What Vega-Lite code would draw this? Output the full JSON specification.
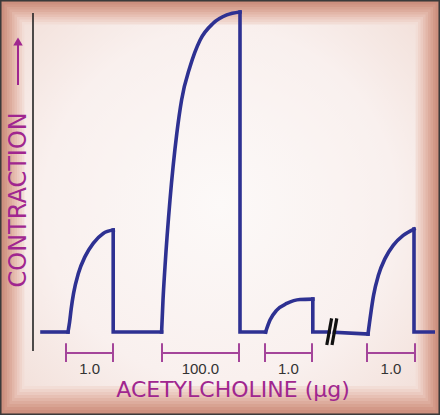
{
  "$schema": "https://vega.github.io/schema/vega-lite/v6.json",
  "width": 440,
  "height": 415,
  "autosize": {"type": "none"},
  "padding": 0,
  "background": "#C98B7A",
  "config": {"view": {"stroke": null}},
  "encoding": {
    "x": {"field": "t", "type": "quantitative", "scale": {"domain": [0, 110], "nice": false, "zero": false}, "axis": null},
    "y": {"field": "c", "type": "quantitative", "scale": {"domain": [-25, 100], "nice": false, "zero": false}, "axis": null}
  },
  "layer": [
    {
      "data": {"values": [{"t": 0, "t2": 110, "c": -25, "c2": 100}]},
      "mark": {"type": "rect", "fill": "#C48675", "stroke": "#3a3a3a", "strokeWidth": 3},
      "encoding": {"x2": {"field": "t2"}, "y2": {"field": "c2"}}
    },
    {
      "data": {"values": [
        {"ring": 0, "t": 0.5, "t2": 109.5, "c": -24.4, "c2": 99.4},
        {"ring": 1, "t": 1.125, "t2": 108.875, "c": -23.49, "c2": 98.64},
        {"ring": 2, "t": 1.75, "t2": 108.25, "c": -22.59, "c2": 97.89},
        {"ring": 3, "t": 2.375, "t2": 107.625, "c": -21.69, "c2": 97.14},
        {"ring": 4, "t": 3.0, "t2": 107.0, "c": -20.78, "c2": 96.39},
        {"ring": 5, "t": 3.625, "t2": 106.375, "c": -19.88, "c2": 95.63},
        {"ring": 6, "t": 4.25, "t2": 105.75, "c": -18.98, "c2": 94.88},
        {"ring": 7, "t": 4.875, "t2": 105.125, "c": -18.07, "c2": 94.13},
        {"ring": 8, "t": 5.5, "t2": 104.5, "c": -17.17, "c2": 93.37}
      ]},
      "mark": {"type": "rect"},
      "encoding": {
        "x2": {"field": "t2"}, "y2": {"field": "c2"},
        "fill": {"field": "ring", "type": "ordinal", "legend": null,
          "scale": {"range": ["#CD907F", "#D39988", "#D8A392", "#DDAC9D", "#E2B6A8", "#E7C0B4", "#EBCAC0", "#EFD4CB", "#F2DDD6"]}}
      }
    },
    {
      "data": {"values": [{"t": 6.1, "t2": 103.9, "c": -16.3, "c2": 92.6}]},
      "mark": {"type": "rect", "fill": {"gradient": "radial", "x1": 0.5, "y1": 0.5, "r1": 0, "x2": 0.5, "y2": 0.5, "r2": 0.75,
        "stops": [{"offset": 0, "color": "#FCF9F8"}, {"offset": 0.6, "color": "#F9F0EE"}, {"offset": 1, "color": "#F1DDD6"}]}},
      "encoding": {"x2": {"field": "t2"}, "y2": {"field": "c2"}}
    },
    {
      "data": {"values": [{"t": 8.25, "c": -5.7, "c2": 96.1}]},
      "mark": {"type": "rule", "color": "#222222", "strokeWidth": 1.6},
      "encoding": {"y2": {"field": "c2"}}
    },
    {
      "data": {"values": [{"t": 4.5, "c": 74.4, "c2": 86.5}]},
      "mark": {"type": "rule", "color": "#A0268F", "strokeWidth": 2},
      "encoding": {"y2": {"field": "c2"}}
    },
    {
      "data": {"values": [{"t": 4.5, "c": 87.5}]},
      "mark": {"type": "point", "shape": "triangle-up", "filled": true, "color": "#A0268F", "size": 90, "opacity": 1}
    },
    {
      "data": {"values": [{"t": 4.75, "c": 39.8, "label": "CONTRACTION"}]},
      "mark": {"type": "text", "angle": 270, "align": "center", "baseline": "middle", "font": "DejaVu Sans", "fontSize": 24, "color": "#A0268F"},
      "encoding": {"text": {"field": "label"}}
    },
    {
      "data": {"values": [
        {"seg": "s1", "i": 0, "t": 10.5, "c": 0},
        {"seg": "s1", "i": 1, "t": 17.0, "c": 0},
        {"seg": "s2", "i": 0, "t": 28.3, "c": 30.7},
        {"seg": "s2", "i": 1, "t": 28.3, "c": 0},
        {"seg": "s2", "i": 2, "t": 40.4, "c": 0},
        {"seg": "s3", "i": 0, "t": 60.0, "c": 96.4},
        {"seg": "s3", "i": 1, "t": 60.0, "c": 0},
        {"seg": "s3", "i": 2, "t": 66.4, "c": 0},
        {"seg": "s4", "i": 0, "t": 78.2, "c": 9.9},
        {"seg": "s4", "i": 1, "t": 78.2, "c": 0},
        {"seg": "s4", "i": 2, "t": 82.3, "c": 0},
        {"seg": "s5", "i": 0, "t": 83.6, "c": -0.1},
        {"seg": "s5", "i": 1, "t": 92.0, "c": -0.6},
        {"seg": "s6", "i": 0, "t": 103.5, "c": 31.0},
        {"seg": "s6", "i": 1, "t": 103.5, "c": 0},
        {"seg": "s6", "i": 2, "t": 108.3, "c": 0}
      ]},
      "mark": {"type": "line", "color": "#2E3192", "strokeWidth": 3.6, "strokeJoin": "miter", "strokeCap": "square"},
      "encoding": {"order": {"field": "i", "type": "quantitative"}, "detail": {"field": "seg"}}
    },
    {
      "data": {"values": [
        {"curve": 1, "t": 17.0, "c": 0},
        {"curve": 1, "t": 17.4, "c": 3},
        {"curve": 1, "t": 17.8, "c": 7},
        {"curve": 1, "t": 18.4, "c": 11.7},
        {"curve": 1, "t": 19.6, "c": 17.7},
        {"curve": 1, "t": 21.25, "c": 22.7},
        {"curve": 1, "t": 23.3, "c": 26.7},
        {"curve": 1, "t": 25.8, "c": 29.7},
        {"curve": 1, "t": 28.3, "c": 30.7},
        {"curve": 2, "t": 40.4, "c": 0},
        {"curve": 2, "t": 40.75, "c": 9.6},
        {"curve": 2, "t": 41.25, "c": 19.7},
        {"curve": 2, "t": 42.5, "c": 39.8},
        {"curve": 2, "t": 44.2, "c": 59.8},
        {"curve": 2, "t": 45.4, "c": 69.9},
        {"curve": 2, "t": 47.5, "c": 79.9},
        {"curve": 2, "t": 50.0, "c": 87.9},
        {"curve": 2, "t": 53.3, "c": 93.0},
        {"curve": 2, "t": 56.7, "c": 95.5},
        {"curve": 2, "t": 60.0, "c": 96.4},
        {"curve": 3, "t": 66.4, "c": 0},
        {"curve": 3, "t": 67.5, "c": 3.6},
        {"curve": 3, "t": 69.2, "c": 6.6},
        {"curve": 3, "t": 71.7, "c": 8.6},
        {"curve": 3, "t": 75.0, "c": 9.8},
        {"curve": 3, "t": 78.2, "c": 9.9},
        {"curve": 4, "t": 92.0, "c": -0.6},
        {"curve": 4, "t": 92.4, "c": 3},
        {"curve": 4, "t": 92.8, "c": 6.5},
        {"curve": 4, "t": 93.4, "c": 11.1},
        {"curve": 4, "t": 94.6, "c": 17.1},
        {"curve": 4, "t": 96.25, "c": 22.1},
        {"curve": 4, "t": 98.3, "c": 26.1},
        {"curve": 4, "t": 100.8, "c": 29.1},
        {"curve": 4, "t": 103.5, "c": 31.0}
      ]},
      "mark": {"type": "line", "color": "#2E3192", "strokeWidth": 3.6, "interpolate": "monotone", "strokeCap": "square"},
      "encoding": {"detail": {"field": "curve"}}
    },
    {
      "data": {"values": [
        {"k": "a", "n": 0, "t": 82.9, "c": 4.1},
        {"k": "a", "n": 1, "t": 81.7, "c": -3.9},
        {"k": "b", "n": 0, "t": 84.2, "c": 4.1},
        {"k": "b", "n": 1, "t": 83.0, "c": -3.9}
      ]},
      "mark": {"type": "line", "color": "#111111", "strokeWidth": 3.2, "strokeCap": "butt"},
      "encoding": {"order": {"field": "n", "type": "quantitative"}, "detail": {"field": "k"}}
    },
    {
      "data": {"values": [
        {"dose": "1.0", "t": 16.5, "t2": 28.25, "tm": 22.4, "c": -6.3, "ctop": -3.4, "cbot": -9.0, "clab": -11.1},
        {"dose": "100.0", "t": 40.5, "t2": 59.75, "tm": 50.1, "c": -6.3, "ctop": -3.4, "cbot": -9.0, "clab": -11.1},
        {"dose": "1.0", "t": 66.25, "t2": 78.0, "tm": 72.1, "c": -6.3, "ctop": -3.4, "cbot": -9.0, "clab": -11.1},
        {"dose": "1.0", "t": 91.75, "t2": 103.75, "tm": 97.75, "c": -6.3, "ctop": -3.4, "cbot": -9.0, "clab": -11.1}
      ]},
      "layer": [
        {
          "mark": {"type": "rule", "color": "#A4459A", "strokeWidth": 2},
          "encoding": {"x2": {"field": "t2"}}
        },
        {
          "mark": {"type": "rule", "color": "#A4459A", "strokeWidth": 2},
          "encoding": {"y": {"field": "ctop", "type": "quantitative"}, "y2": {"field": "cbot"}}
        },
        {
          "mark": {"type": "rule", "color": "#A4459A", "strokeWidth": 2},
          "encoding": {"x": {"field": "t2", "type": "quantitative"}, "y": {"field": "ctop", "type": "quantitative"}, "y2": {"field": "cbot"}}
        },
        {
          "mark": {"type": "text", "align": "center", "baseline": "middle", "font": "Liberation Sans Narrow, Arial Narrow, Liberation Sans", "fontSize": 15, "color": "#333333"},
          "encoding": {"x": {"field": "tm", "type": "quantitative"}, "y": {"field": "clab", "type": "quantitative"}, "text": {"field": "dose"}}
        }
      ]
    },
    {
      "data": {"values": [{"t": 58.25, "c": -17.6, "label": "ACETYLCHOLINE (μg)"}]},
      "mark": {"type": "text", "align": "center", "baseline": "middle", "font": "DejaVu Sans", "fontSize": 22, "color": "#A0268F"},
      "encoding": {"text": {"field": "label"}}
    }
  ]
}
